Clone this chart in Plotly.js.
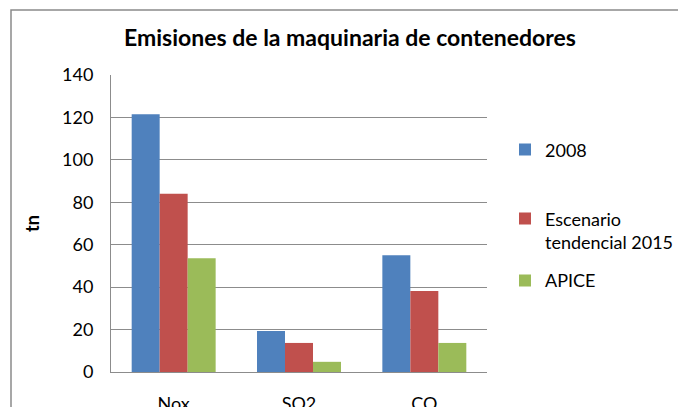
<!DOCTYPE html>
<html>
<head>
<meta charset="utf-8">
<script src="https://cdn.plot.ly/plotly-3.0.1.min.js"></script>
<style>
html,body{margin:0;padding:0;background:#fff;}
#chart{width:678px;height:407px;}
</style>
</head>
<body>
<div id="chart"></div>
<script>
var categories = ["Nox", "SO2", "CO"];
var seriesNames = ["2008", "Escenario<br>tendencial 2015", "APICE"];
var values2008 = [121.5, 19.3, 55.0];
var valuesEscenario = [84.0, 13.7, 38.2];
var valuesApice = [53.6, 4.8, 13.7];
var yTicks = [0, 20, 40, 60, 80, 100, 120, 140];

var colors = ["#4F81BD", "#C0504D", "#9BBB59"];
var allValues = [values2008, valuesEscenario, valuesApice];
var legendIds = ["legend", "legend2", "legend3"];

var traces = allValues.map(function (v, i) {
  return {
    type: "bar",
    x: categories,
    y: v,
    name: seriesNames[i],
    legend: legendIds[i],
    marker: { color: colors[i], line: { width: 0 } },
    hoverinfo: "x+y+name"
  };
});

var FONT = "Lato, 'Open Sans', sans-serif";
var L = 111, R = 487, T = 74.5, B = 372, W = 678, H = 407;
var pw = R - L, ph = B - T;
function px2x(p) { return (p - L) / pw; }
function py2y(p) { return (B - p) / ph; }

function legendAt(topPx) {
  return {
    x: px2x(505), xanchor: "left",
    y: py2y(topPx), yanchor: "top",
    valign: "top",
    font: { family: FONT, size: 18, color: "#000000" },
    bgcolor: "rgba(0,0,0,0)",
    borderwidth: 0,
    itemclick: false, itemdoubleclick: false
  };
}

var layout = {
  width: W,
  height: H,
  margin: { l: L, r: W - R, t: T, b: H - B, pad: 0, autoexpand: false },
  paper_bgcolor: "#ffffff",
  plot_bgcolor: "#ffffff",
  font: { family: FONT, size: 18, color: "#000000" },
  title: {
    text: "<b>Emisiones de la maquinaria de contenedores</b>",
    font: { family: FONT, size: 23, color: "#000000" },
    x: 350 / W, xanchor: "center",
    y: 1 - 38 / H, yanchor: "middle"
  },
  barmode: "group",
  bargap: 0.33,
  bargroupgap: 0,
  xaxis: {
    type: "category",
    showgrid: false,
    showline: true,
    linecolor: "#8C8C8C",
    linewidth: 1,
    ticks: "",
    ticklabelstandoff: 15,
    tickfont: { family: FONT, size: 18 },
    fixedrange: true
  },
  yaxis: {
    range: [0, 140],
    tickvals: yTicks,
    ticktext: yTicks.map(String),
    showgrid: true,
    gridcolor: "#8C8C8C",
    gridwidth: 1,
    showline: true,
    linecolor: "#8C8C8C",
    linewidth: 1,
    zeroline: false,
    ticks: "",
    ticklabelstandoff: 13,
    tickfont: { family: FONT, size: 18 },
    title: { text: "<b>tn</b>", font: { family: FONT, size: 18 }, standoff: 17 },
    automargin: false,
    fixedrange: true
  },
  legend: legendAt(131),
  legend2: legendAt(200),
  legend3: legendAt(262),
  shapes: [{
    type: "rect",
    xref: "paper", yref: "paper",
    x0: px2x(11), x1: px2x(720),
    y0: py2y(440), y1: py2y(9.5),
    line: { color: "#8A8A8A", width: 1.5 },
    fillcolor: "rgba(0,0,0,0)",
    layer: "below"
  }],
  showlegend: true
};

Plotly.newPlot("chart", traces, layout, { displayModeBar: false });
</script>
</body>
</html>
